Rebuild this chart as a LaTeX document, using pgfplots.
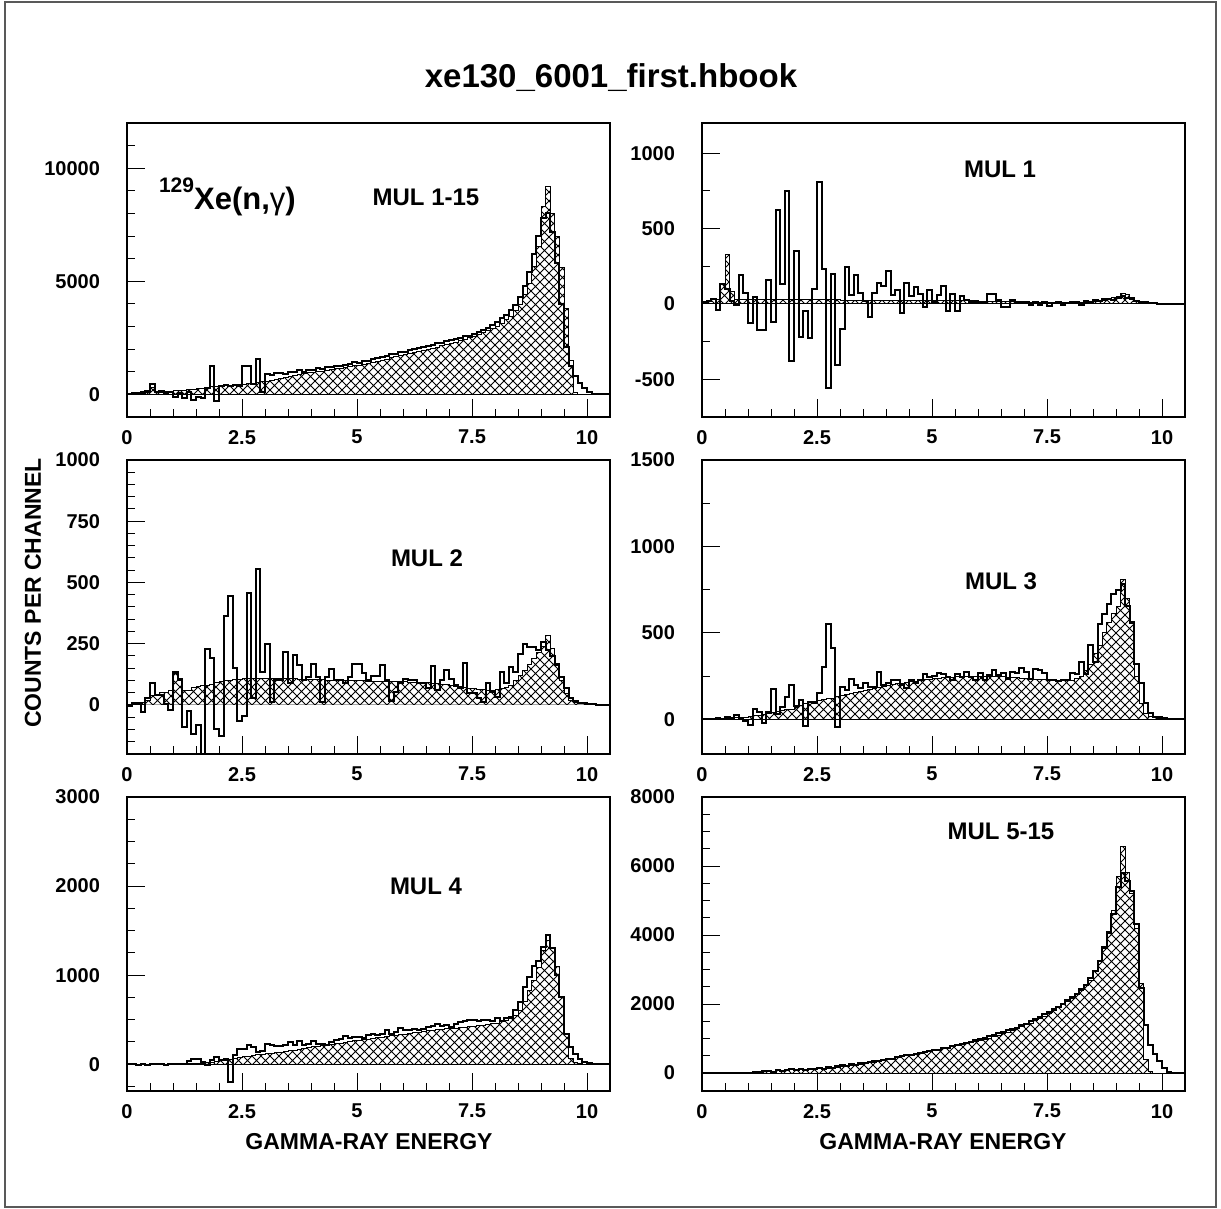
\documentclass[border=0pt]{standalone}
\usepackage{fontspec}
\setmainfont{Liberation Sans}
\usepackage{pgfplots}
\pgfplotsset{compat=1.18}
\usepackage{pgfplotstable}
\usetikzlibrary{patterns}

\pgfdeclarepatternformonly{xhatch}{\pgfpoint{-0.3pt}{-0.3pt}}{\pgfpoint{4.8pt}{4.8pt}}{\pgfpoint{4.5pt}{4.5pt}}{%
  \pgfsetlinewidth{0.4pt}%
  \pgfpathmoveto{\pgfpoint{0pt}{0pt}}\pgfpathlineto{\pgfpoint{4.5pt}{4.5pt}}%
  \pgfpathmoveto{\pgfpoint{0pt}{4.5pt}}\pgfpathlineto{\pgfpoint{4.5pt}{0pt}}%
  \pgfusepath{stroke}}

\pgfplotsset{
 hist/.style={scale only axis, width=241.5pt, height=147pt, xmin=0, xmax=10.5,
  axis on top, axis line style={line width=0.8pt},
  scaled y ticks=false, scaled x ticks=false,
  tick align=inside, xtick pos=bottom, ytick pos=left,
  major tick length=9pt, minor tick length=4pt,
  tick style={black, line width=0.5pt},
  xtick={0,2.5,5,7.5,10}, xticklabels={0,2.5,5,7.5,10},
  minor xtick={0,0.5,...,10.5},
  ticklabel style={font=\fontsize{10}{12}\selectfont\bfseries},
  xticklabel style={yshift=-3pt}, yticklabel style={xshift=-10pt}},
 sim/.style={const plot mark left, draw=black, line width=0.5pt, pattern=xhatch, mark=none},
 exp/.style={const plot mark left, draw=black, line width=1pt, mark=none},
}

\pgfplotstableread[row sep=\\]{
s e\\
20 0\\ 40 50\\ 50 80\\ 60 100\\ 80 150\\ 300 450\\ 100 100\\ 100 150\\ 110 80\\ 120 100\\
150 -100\\ 170 50\\ 190 -150\\ 210 100\\ 230 -250\\ 250 -100\\ 270 -150\\ 300 300\\ 330 1250\\ 360 -300\\
370 350\\ 390 400\\ 410 350\\ 430 400\\ 440 350\\ 450 1250\\ 470 1250\\ 500 450\\ 540 1550\\ 570 100\\
590 900\\ 620 870\\ 660 960\\ 700 930\\ 750 900\\ 800 1010\\ 840 980\\ 880 1060\\ 920 1000\\ 960 1070\\
985 1090\\ 1000 1160\\ 1030 1130\\ 1070 1210\\ 1100 1190\\ 1130 1260\\ 1160 1270\\ 1190 1320\\ 1230 1340\\ 1260 1410\\
1290 1390\\ 1330 1460\\ 1370 1490\\ 1420 1570\\ 1460 1590\\ 1510 1660\\ 1560 1690\\ 1610 1770\\ 1660 1790\\ 1710 1860\\
1760 1890\\ 1800 1960\\ 1850 1990\\ 1890 2060\\ 1940 2090\\ 1985 2160\\ 2030 2190\\ 2090 2260\\ 2140 2290\\ 2200 2360\\
2250 2390\\ 2310 2460\\ 2370 2490\\ 2430 2560\\ 2500 2590\\ 2570 2660\\ 2650 2740\\ 2740 2860\\ 2830 2940\\ 2920 3060\\
3010 3190\\ 3150 3360\\ 3300 3490\\ 3450 3710\\ 3700 3940\\ 3970 4310\\ 4400 4790\\ 4920 5410\\ 5660 6190\\ 6540 7010\\
8300 7800\\ 9190 8000\\ 8000 7200\\ 7000 5800\\ 5600 4000\\ 3800 2100\\ 1500 1250\\ 100 800\\ 0 500\\ 0 300\\
0 100\\ 0 0\\ 0 0\\ 0 0\\ 0 0\\ 0 0\\
}\tA

\pgfplotstableread[row sep=\\]{
s e\\
10 10\\ 20 20\\ 30 30\\ 30 -40\\ 130 130\\ 330 100\\ 80 20\\ 30 -10\\ 30 195\\ 30 75\\
30 -124\\ 30 46\\ 30 -175\\ 30 -175\\ 30 157\\ 30 -119\\ 30 621\\ 30 135\\ 30 749\\ 30 -378\\
28 349\\ 28 -219\\ 28 -49\\ 28 -223\\ 28 100\\ 28 809\\ 28 230\\ 28 -561\\ 28 201\\ 28 -407\\
25 -164\\ 25 245\\ 25 60\\ 25 195\\ 25 70\\ 25 20\\ 25 -86\\ 25 75\\ 25 141\\ 25 119\\
25 217\\ 25 57\\ 25 90\\ 25 -60\\ 25 139\\ 25 51\\ 25 113\\ 25 69\\ 25 -20\\ 25 90\\
20 10\\ 20 62\\ 20 117\\ 20 -46\\ 20 69\\ 20 -46\\ 20 50\\ 20 25\\ 20 15\\ 20 15\\
15 15\\ 15 15\\ 15 69\\ 15 69\\ 15 25\\ 15 -20\\ 15 -20\\ 15 25\\ 15 10\\ 15 5\\
12 10\\ 12 -10\\ 12 15\\ 12 -5\\ 12 10\\ 12 -15\\ 12 5\\ 12 10\\ 12 -10\\ 12 5\\
12 10\\ 12 15\\ 12 -5\\ 12 20\\ 15 15\\ 15 25\\ 20 20\\ 25 30\\ 30 35\\ 40 25\\
50 40\\ 70 50\\ 60 40\\ 40 30\\ 20 20\\ 10 15\\ 5 10\\ 0 5\\ 0 5\\ 0 0\\
0 0\\ 0 0\\ 0 0\\ 0 0\\ 0 0\\ 0 0\\
}\tB

\pgfplotstableread[row sep=\\]{
s e\\
0 -4\\ 0 7\\ 5 7\\ 10 -27\\ 20 27\\ 40 88\\ 40 40\\ 50 40\\ 50 5\\ 60 -20\\
130 135\\ 110 100\\ 60 -88\\ 60 -23\\ 70 -120\\ 75 -81\\ 80 -260\\ 80 230\\ 85 193\\ 90 -100\\
95 -128\\ 100 365\\ 100 446\\ 105 149\\ 105 -64\\ 110 -43\\ 110 459\\ 110 27\\ 110 554\\ 110 135\\
110 250\\ 110 13\\ 110 101\\ 110 101\\ 108 216\\ 108 88\\ 108 203\\ 105 162\\ 105 101\\ 105 115\\
105 169\\ 103 115\\ 103 13\\ 100 115\\ 100 146\\ 100 101\\ 100 104\\ 100 88\\ 98 115\\ 98 169\\
98 169\\ 98 130\\ 97 101\\ 97 120\\ 96 120\\ 96 162\\ 95 101\\ 95 18\\ 94 54\\ 94 88\\
94 108\\ 93 100\\ 92 101\\ 92 88\\ 91 88\\ 90 68\\ 88 158\\ 86 61\\ 84 104\\ 82 142\\
80 108\\ 77 81\\ 74 68\\ 71 172\\ 68 47\\ 66 47\\ 64 27\\ 62 13\\ 61 88\\ 60 54\\
62 34\\ 66 135\\ 72 88\\ 80 155\\ 100 135\\ 120 209\\ 140 250\\ 165 236\\ 190 236\\ 215 223\\
240 257\\ 284 223\\ 230 200\\ 160 169\\ 100 115\\ 45 68\\ 20 27\\ 12 18\\ 8 10\\ 5 7\\
3 5\\ 2 3\\ 0 0\\ 0 0\\ 0 0\\ 0 0\\
}\tC

\pgfplotstableread[row sep=\\]{
s e\\
0 5\\ 0 5\\ 2 0\\ 4 8\\ 6 5\\ 8 15\\ 10 0\\ 10 25\\ 10 0\\ 12 -8\\
15 -30\\ 20 60\\ 25 44\\ 30 -23\\ 35 40\\ 40 173\\ 45 30\\ 50 73\\ 55 131\\ 60 198\\
70 80\\ 80 110\\ 90 -38\\ 95 100\\ 105 92\\ 111 150\\ 115 304\\ 118 550\\ 121 410\\ 130 -42\\
140 188\\ 145 170\\ 150 236\\ 155 198\\ 160 180\\ 169 211\\ 175 190\\ 180 185\\ 185 275\\ 190 200\\
198 210\\ 202 230\\ 206 225\\ 210 200\\ 214 179\\ 217 225\\ 221 210\\ 225 230\\ 229 265\\ 233 245\\
236 250\\ 238 270\\ 240 265\\ 242 245\\ 244 230\\ 246 265\\ 246 245\\ 246 275\\ 246 245\\ 246 230\\
246 270\\ 246 225\\ 246 255\\ 246 285\\ 246 255\\ 246 270\\ 244 236\\ 242 275\\ 240 270\\ 238 300\\
236 275\\ 234 236\\ 232 294\\ 230 285\\ 228 270\\ 227 230\\ 227 230\\ 227 220\\ 227 225\\ 227 230\\
227 270\\ 235 260\\ 250 333\\ 280 265\\ 320 429\\ 380 333\\ 430 554\\ 500 611\\ 560 669\\ 611 727\\
650 746\\ 810 785\\ 700 654\\ 554 563\\ 246 323\\ 92 208\\ 35 92\\ 15 35\\ 10 15\\ 5 15\\
3 10\\ 0 5\\ 0 0\\ 0 0\\ 0 0\\ 0 0\\
}\tD

\pgfplotstableread[row sep=\\]{
s e\\
0 0\\ 0 0\\ 0 -5\\ 0 0\\ 0 -5\\ 0 0\\ 0 0\\ 0 0\\ 0 -5\\ 0 0\\
0 5\\ 0 0\\ 2 5\\ 3 40\\ 5 63\\ 7 60\\ 10 25\\ 15 -11\\ 20 45\\ 28 82\\
37 45\\ 45 63\\ 55 -198\\ 65 100\\ 75 175\\ 82 175\\ 90 212\\ 100 190\\ 110 138\\ 115 150\\
119 231\\ 125 212\\ 130 200\\ 135 200\\ 140 212\\ 149 250\\ 155 212\\ 165 260\\ 175 212\\ 185 231\\
194 257\\ 200 231\\ 207 231\\ 214 212\\ 222 250\\ 231 269\\ 238 288\\ 246 313\\ 254 300\\ 262 306\\
269 306\\ 276 290\\ 283 325\\ 291 343\\ 298 325\\ 306 343\\ 312 388\\ 318 343\\ 324 362\\ 330 410\\
336 388\\ 345 380\\ 354 395\\ 362 388\\ 371 400\\ 380 418\\ 384 425\\ 388 455\\ 392 425\\ 396 436\\
399 418\\ 404 455\\ 410 480\\ 415 490\\ 420 500\\ 425 500\\ 432 490\\ 440 495\\ 448 500\\ 455 490\\
463 515\\ 475 490\\ 490 515\\ 511 530\\ 550 604\\ 604 697\\ 700 865\\ 828 977\\ 940 1100\\ 1089 1164\\
1276 1313\\ 1388 1455\\ 1300 1300\\ 1100 1000\\ 750 753\\ 330 343\\ 63 194\\ 15 119\\ 5 63\\ 0 26\\
0 10\\ 0 5\\ 0 0\\ 0 0\\ 0 0\\ 0 0\\
}\tE

\pgfplotstableread[row sep=\\]{
s e\\
0 0\\ 0 0\\ 0 0\\ 0 0\\ 0 0\\ 0 0\\ 0 0\\ 0 0\\ 5 0\\ 10 10\\
19 10\\ 25 30\\ 30 20\\ 38 50\\ 45 60\\ 55 40\\ 67 90\\ 75 60\\ 82 80\\ 90 110\\
96 80\\ 100 110\\ 105 100\\ 110 120\\ 118 130\\ 126 150\\ 135 130\\ 145 170\\ 155 160\\ 170 190\\
185 220\\ 200 210\\ 215 250\\ 235 240\\ 260 290\\ 280 300\\ 300 310\\ 320 350\\ 345 340\\ 375 380\\
400 420\\ 425 410\\ 450 470\\ 475 480\\ 500 520\\ 525 510\\ 550 560\\ 575 590\\ 600 600\\ 630 650\\
654 680\\ 680 670\\ 705 720\\ 730 740\\ 760 770\\ 785 820\\ 815 830\\ 845 880\\ 875 900\\ 910 960\\
942 990\\ 975 1020\\ 1015 1080\\ 1055 1100\\ 1095 1170\\ 1135 1190\\ 1180 1260\\ 1230 1280\\ 1280 1320\\ 1335 1400\\
1394 1430\\ 1450 1500\\ 1510 1560\\ 1570 1620\\ 1640 1700\\ 1730 1760\\ 1810 1860\\ 1890 1900\\ 1980 2000\\ 2070 2120\\
2163 2200\\ 2280 2300\\ 2404 2450\\ 2540 2550\\ 2692 2750\\ 2933 2950\\ 3221 3250\\ 3606 3650\\ 4038 4100\\ 4700 4600\\
5700 5400\\ 6567 5800\\ 5800 5577\\ 5200 5288\\ 4200 4327\\ 2600 2452\\ 400 1400\\ 50 800\\ 0 550\\ 0 350\\
0 150\\ 0 30\\ 0 0\\ 0 0\\ 0 0\\ 0 0\\
}\tF

\begin{document}
\begin{tikzpicture}
\useasboundingbox (0pt,0pt) rectangle (610.5pt,604.5pt);
\draw[black!65, line width=0.75pt] (2.5pt,1pt) rectangle (608pt,603.5pt);

\node[anchor=base, font=\fontsize{16.5}{20}\selectfont\bfseries] at (305.5pt,560.5pt) {xe130\_6001\_first.hbook};
\node[rotate=90, font=\fontsize{11.5}{14}\selectfont\bfseries] at (16.5pt,308pt) {COUNTS PER CHANNEL};
\node[anchor=base, font=\fontsize{11.5}{14}\selectfont\bfseries] at (184.5pt,29.5pt) {GAMMA-RAY ENERGY};
\node[anchor=base, font=\fontsize{11.5}{14}\selectfont\bfseries] at (471.5pt,29.5pt) {GAMMA-RAY ENERGY};

% Panel 1
\begin{axis}[hist, at={(63.5pt,396pt)}, anchor=south west, ymin=-1000, ymax=12000,
  ytick={0,5000,10000}, yticklabels={0,5000,10000}, minor ytick={-1000,0,...,12000}]
\addplot[sim] table[x expr=\coordindex*0.1, y=s]{\tA} \closedcycle;
\addplot[exp] table[x expr=\coordindex*0.1, y=e]{\tA};
\end{axis}

% Panel 2
\begin{axis}[hist, at={(351pt,396pt)}, anchor=south west, ymin=-750, ymax=1200,
  ytick={-500,0,500,1000}, yticklabels={-500,0,500,1000}, minor ytick={-750,-500,...,1000}]
\addplot[sim] table[x expr=\coordindex*0.1, y=s]{\tB} \closedcycle;
\addplot[exp] table[x expr=\coordindex*0.1, y=e]{\tB};
\end{axis}

% Panel 3
\begin{axis}[hist, at={(63.5pt,227.5pt)}, anchor=south west, ymin=-200, ymax=1000,
  ytick={0,250,500,750,1000}, yticklabels={0,250,500,750,1000}, minor ytick={-200,-150,...,1000}]
\addplot[sim] table[x expr=\coordindex*0.1, y=s]{\tC} \closedcycle;
\addplot[exp] table[x expr=\coordindex*0.1, y=e]{\tC};
\end{axis}

% Panel 4
\begin{axis}[hist, at={(351pt,227.5pt)}, anchor=south west, ymin=-200, ymax=1500,
  ytick={0,500,1000,1500}, yticklabels={0,500,1000,1500}, minor ytick={-250,0,...,1500}]
\addplot[sim] table[x expr=\coordindex*0.1, y=s]{\tD} \closedcycle;
\addplot[exp] table[x expr=\coordindex*0.1, y=e]{\tD};
\end{axis}

% Panel 5
\begin{axis}[hist, at={(63.5pt,59pt)}, anchor=south west, ymin=-300, ymax=3000,
  ytick={0,1000,2000,3000}, yticklabels={0,1000,2000,3000}, minor ytick={-250,0,...,3000}]
\addplot[sim] table[x expr=\coordindex*0.1, y=s]{\tE} \closedcycle;
\addplot[exp] table[x expr=\coordindex*0.1, y=e]{\tE};
\end{axis}

% Panel 6
\begin{axis}[hist, at={(351pt,59pt)}, anchor=south west, ymin=-520, ymax=8000,
  ytick={0,2000,4000,6000,8000}, yticklabels={0,2000,4000,6000,8000}, minor ytick={-500,0,...,8000}]
\addplot[sim] table[x expr=\coordindex*0.1, y=s]{\tF} \closedcycle;
\addplot[exp] table[x expr=\coordindex*0.1, y=e]{\tF};
\end{axis}

\node[anchor=base west, font=\fontsize{15.5}{18}\selectfont\bfseries] at (76pt,499.5pt)
  {\raisebox{8.5pt}{\fontsize{10.5}{12}\selectfont 129}Xe(n,{\mdseries γ})};
\node[anchor=base, font=\fontsize{12}{14}\selectfont\bfseries] at (213pt,501.5pt) {MUL 1-15};
\node[anchor=base, font=\fontsize{12}{14}\selectfont\bfseries] at (500pt,515.5pt) {MUL 1};
\node[anchor=base, font=\fontsize{12}{14}\selectfont\bfseries] at (213.5pt,321pt) {MUL 2};
\node[anchor=base, font=\fontsize{12}{14}\selectfont\bfseries] at (500.5pt,309.5pt) {MUL 3};
\node[anchor=base, font=\fontsize{12}{14}\selectfont\bfseries] at (213pt,157pt) {MUL 4};
\node[anchor=base, font=\fontsize{12}{14}\selectfont\bfseries] at (500.5pt,184.5pt) {MUL 5-15};
\end{tikzpicture}
\end{document}
